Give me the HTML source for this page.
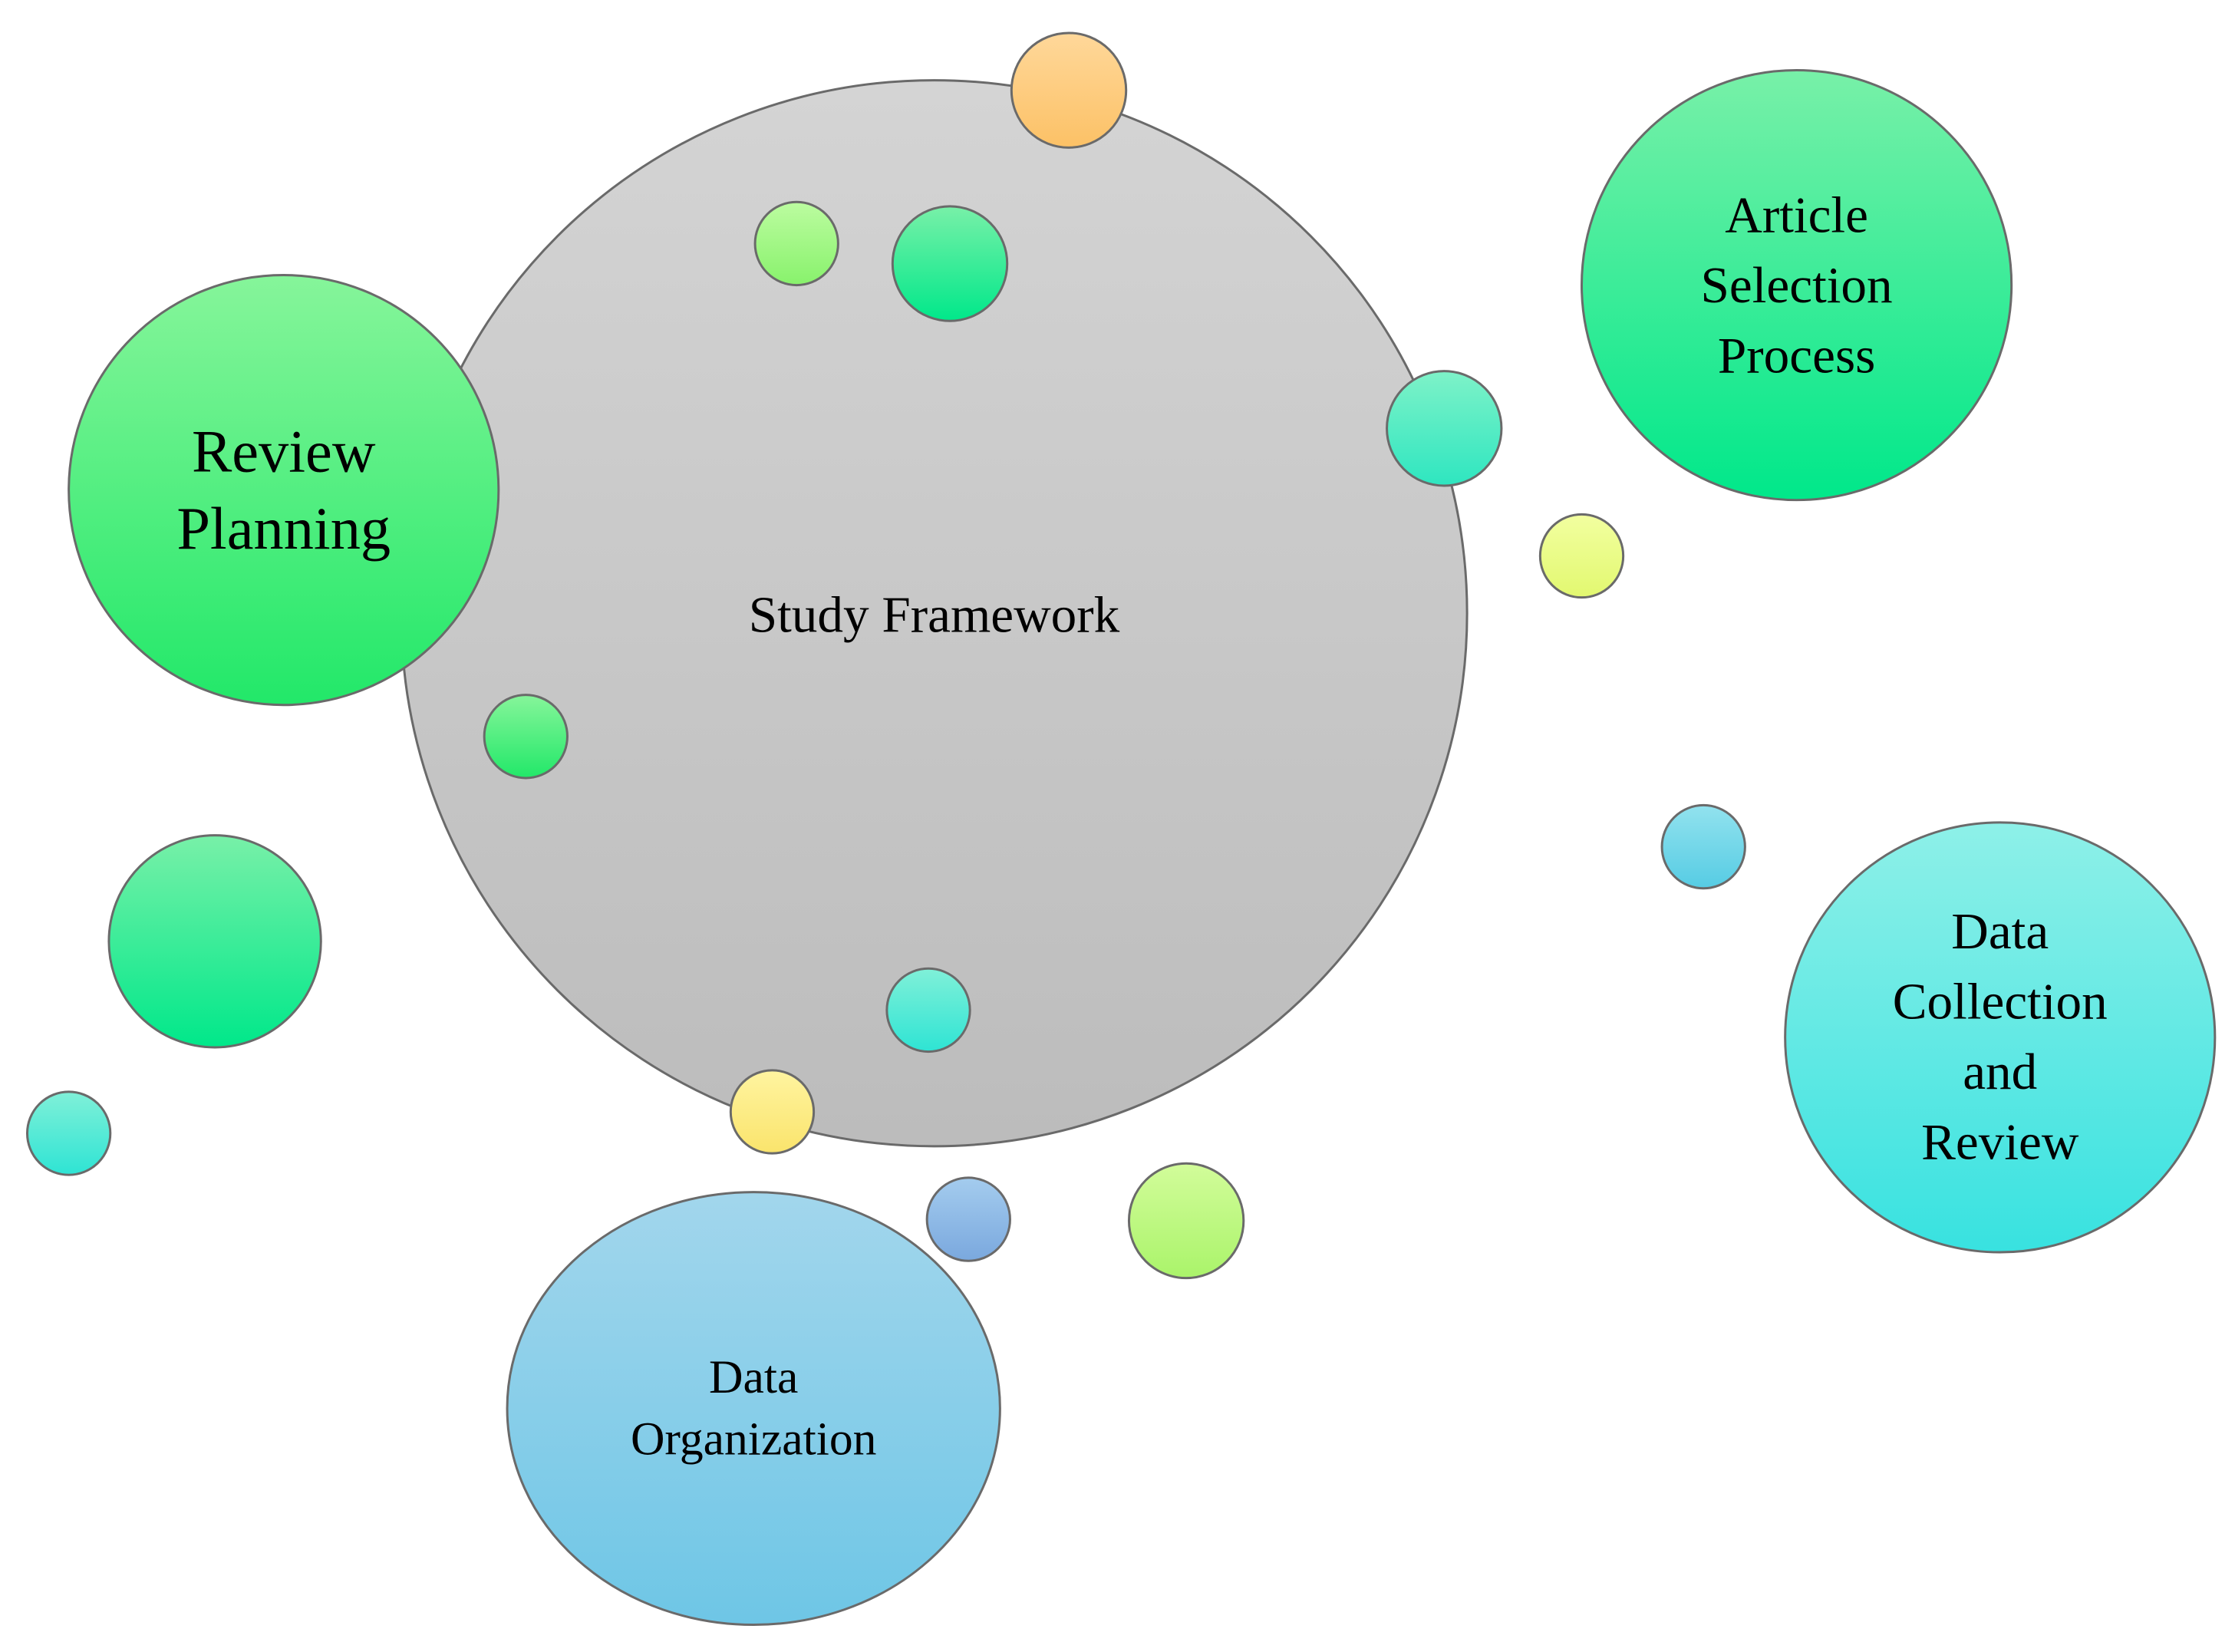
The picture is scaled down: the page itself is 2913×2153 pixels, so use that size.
<!DOCTYPE html>
<html><head><meta charset="utf-8"><style>
html,body{margin:0;padding:0;background:#fff;}
svg{display:block;}
text{font-family:"Liberation Serif",serif;fill:#000;text-anchor:middle;}
</style></head><body>
<svg width="2913" height="2153" viewBox="0 0 1560 1153" xmlns="http://www.w3.org/2000/svg">
<defs>
<linearGradient id="gray" x1="0" y1="0" x2="0" y2="1"><stop offset="0" stop-color="#d4d4d4"/><stop offset="1" stop-color="#bcbcbc"/></linearGradient>
<linearGradient id="green" x1="0" y1="0" x2="0" y2="1"><stop offset="0" stop-color="#86f59a"/><stop offset="1" stop-color="#22e869"/></linearGradient>
<linearGradient id="green2" x1="0" y1="0" x2="0" y2="1"><stop offset="0" stop-color="#78f0a8"/><stop offset="1" stop-color="#00e88a"/></linearGradient>
<linearGradient id="cyan" x1="0" y1="0" x2="0" y2="1"><stop offset="0" stop-color="#8ef0e8"/><stop offset="1" stop-color="#38e2e0"/></linearGradient>
<linearGradient id="blue" x1="0" y1="0" x2="0" y2="1"><stop offset="0" stop-color="#a2d6ec"/><stop offset="1" stop-color="#6ec6e6"/></linearGradient>
<linearGradient id="orange" x1="0" y1="0" x2="0" y2="1"><stop offset="0" stop-color="#ffd89a"/><stop offset="1" stop-color="#fcc166"/></linearGradient>
<linearGradient id="lgreen" x1="0" y1="0" x2="0" y2="1"><stop offset="0" stop-color="#bcfca0"/><stop offset="1" stop-color="#88f26c"/></linearGradient>
<linearGradient id="teal" x1="0" y1="0" x2="0" y2="1"><stop offset="0" stop-color="#7ef2c8"/><stop offset="1" stop-color="#2ee6c0"/></linearGradient>
<linearGradient id="yellow" x1="0" y1="0" x2="0" y2="1"><stop offset="0" stop-color="#f2ffa0"/><stop offset="1" stop-color="#e2f870"/></linearGradient>
<linearGradient id="yellow2" x1="0" y1="0" x2="0" y2="1"><stop offset="0" stop-color="#fff4a0"/><stop offset="1" stop-color="#fae46c"/></linearGradient>
<linearGradient id="ygreen" x1="0" y1="0" x2="0" y2="1"><stop offset="0" stop-color="#d2fc9a"/><stop offset="1" stop-color="#aaf46a"/></linearGradient>
<linearGradient id="dblue" x1="0" y1="0" x2="0" y2="1"><stop offset="0" stop-color="#a4ccee"/><stop offset="1" stop-color="#7aa8de"/></linearGradient>
<linearGradient id="sblue" x1="0" y1="0" x2="0" y2="1"><stop offset="0" stop-color="#92e2ee"/><stop offset="1" stop-color="#56cce4"/></linearGradient>
<linearGradient id="cteal" x1="0" y1="0" x2="0" y2="1"><stop offset="0" stop-color="#80f0d8"/><stop offset="1" stop-color="#2ee4d4"/></linearGradient>
</defs>
<g stroke="#6a6a6a" stroke-width="1.6">
<circle cx="652" cy="428" r="372" fill="url(#gray)"/>
<circle cx="198" cy="342" r="150" fill="url(#green)"/>
<circle cx="1254" cy="199" r="150" fill="url(#green2)"/>
<circle cx="1396" cy="724" r="150" fill="url(#cyan)"/>
<ellipse cx="526" cy="983" rx="172" ry="151" fill="url(#blue)"/>
<circle cx="746" cy="63" r="40" fill="url(#orange)"/>
<circle cx="556" cy="170" r="29" fill="url(#lgreen)"/>
<circle cx="663" cy="184" r="40" fill="url(#green2)"/>
<circle cx="1008" cy="299" r="40" fill="url(#teal)"/>
<circle cx="1104" cy="388" r="29" fill="url(#yellow)"/>
<circle cx="367" cy="514" r="29" fill="url(#green)"/>
<circle cx="150" cy="657" r="74" fill="url(#green2)"/>
<circle cx="48" cy="791" r="29" fill="url(#cteal)"/>
<circle cx="648" cy="705" r="29" fill="url(#cteal)"/>
<circle cx="539" cy="776" r="29" fill="url(#yellow2)"/>
<circle cx="676" cy="851" r="29" fill="url(#dblue)"/>
<circle cx="828" cy="852" r="40" fill="url(#ygreen)"/>
<circle cx="1189" cy="591" r="29" fill="url(#sblue)"/>
</g>
<text x="652" y="441" font-size="36">Study Framework</text>
<text x="198" y="329" font-size="42">Review</text>
<text x="198" y="383" font-size="42">Planning</text>
<text x="1254" y="162" font-size="36">Article</text>
<text x="1254" y="211" font-size="36">Selection</text>
<text x="1254" y="260" font-size="36">Process</text>
<text x="1396" y="662" font-size="36">Data</text>
<text x="1396" y="711" font-size="36">Collection</text>
<text x="1396" y="760" font-size="36">and</text>
<text x="1396" y="809" font-size="36">Review</text>
<text x="526" y="972" font-size="33">Data</text>
<text x="526" y="1015" font-size="33">Organization</text>
</svg>
</body></html>
